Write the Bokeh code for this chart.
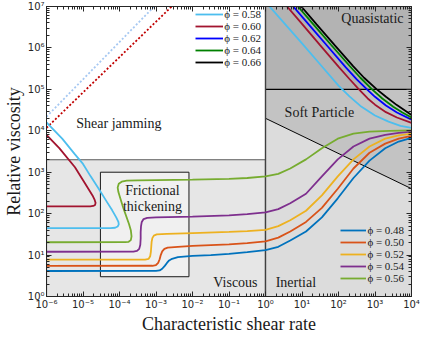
from bokeh.plotting import figure
from bokeh.models import (Range1d, FixedTicker, LogAxis, CustomJSTickFormatter,
                          Legend, LegendItem)
from bokeh.core.properties import value
from bokeh.embed import file_html
from bokeh.resources import INLINE

# ---------------- data (log10 shear rate, log10 relative viscosity) ----------------
phi048_lx = [-6, -3.0, -2.9, -2.83, -2.76, -2.7, -2.64, -2.56, -2.4, -2.0, -1.5, -1.0, -0.5, 0,
             0.35, 0.678, 1.11, 1.545, 1.98, 2.41, 2.85, 3.28, 3.65, 4.0]
phi048_ly = [0.615, 0.617, 0.63, 0.67, 0.74, 0.81, 0.87, 0.91, 0.95, 0.98, 1.0, 1.03, 1.07, 1.12,
             1.2, 1.35, 1.57, 1.91, 2.37, 2.86, 3.28, 3.58, 3.74, 3.83]

phi050_lx = [-6, -3.1, -3.0, -2.94, -2.9, -2.87, -2.83, -2.77, -2.68, -2.4, -2.0, -1.5, -1.0, -0.5, 0,
             0.35, 0.678, 1.11, 1.545, 1.98, 2.41, 2.85, 3.28, 3.65, 4.0]
phi050_ly = [0.74, 0.742, 0.76, 0.81, 0.9, 1.0, 1.09, 1.15, 1.18, 1.2, 1.22, 1.24, 1.26, 1.29, 1.33,
             1.42, 1.57, 1.80, 2.14, 2.60, 3.09, 3.47, 3.69, 3.81, 3.88]

phi052_lx = [-6, -3.3, -3.2, -3.16, -3.14, -3.13, -3.12, -3.1, -3.06, -2.98, -2.7, -2.0, -1.0, -0.5, 0,
             0.35, 0.678, 1.11, 1.545, 1.98, 2.41, 2.85, 3.28, 3.65, 4.0]
phi052_ly = [0.89, 0.892, 0.91, 0.97, 1.08, 1.2, 1.32, 1.41, 1.47, 1.5, 1.51, 1.53, 1.56, 1.58, 1.61,
             1.7, 1.84, 2.07, 2.44, 2.90, 3.31, 3.62, 3.81, 3.89, 3.93]

phi054_lx = [-6, -3.62, -3.52, -3.46, -3.43, -3.42, -3.42, -3.41, -3.39, -3.34, -3.24, -3.0, -2.0, -1.0,
             -0.5, 0, 0.35, 0.678, 1.11, 1.545, 1.98, 2.41, 2.85, 3.28, 3.65, 4.0]
phi054_ly = [1.08, 1.082, 1.1, 1.15, 1.25, 1.4, 1.55, 1.7, 1.8, 1.87, 1.9, 1.91, 1.93, 1.96,
             1.99, 2.03, 2.11, 2.25, 2.48, 2.90, 3.31, 3.62, 3.81, 3.90, 3.95, 3.98]

phi056_lx = [-6, -3.85, -3.75, -3.69, -3.67, -3.69, -3.74, -3.82, -3.9, -3.97, -4.03, -4.05, -4.02,
             -3.94, -3.8, -3.5, -3.0, -2.0, -1.0, -0.5, 0, 0.35, 0.678, 1.11, 1.545, 1.98, 2.41,
             2.85, 3.4, 4.0]
phi056_ly = [1.31, 1.312, 1.32, 1.36, 1.45, 1.6, 1.75, 1.95, 2.15, 2.35, 2.52, 2.63, 2.72,
             2.77, 2.795, 2.805, 2.81, 2.82, 2.84, 2.86, 2.9, 2.96, 3.09, 3.31, 3.58, 3.81, 3.93,
             3.98, 4.0, 4.01]

# jammed suspensions: low-rate branches
phi058_low_lx = [-6, -5.57, -5.22, -5.0, -4.79, -4.57, -4.35, -4.2, -4.09, -4.03, -4.02, -4.05,
                 -4.12, -4.25, -6]
phi058_low_ly = [4.2, 3.81, 3.43, 3.2, 2.90, 2.6, 2.29, 2.08, 1.91, 1.80, 1.74, 1.69,
                 1.66, 1.65, 1.65]
phi060_low_lx = [-6, -5.65, -5.22, -4.96, -4.74, -4.68, -4.655, -4.67, -4.72, -4.8, -6]
phi060_low_ly = [3.9, 3.58, 3.12, 2.75, 2.44, 2.33, 2.26, 2.21, 2.185, 2.175, 2.175]

# dotted shear-jamming lines
jam058_lx = [-6, -3.05]
jam058_ly = [4.34, 7.0]
jam060_lx = [-6, -2.57]
jam060_ly = [4.07, 7.0]

# high-rate (quasistatic / soft particle) branches
phi058_high_lx = [0.11, 0.5, 1.0, 1.5, 2.0, 2.3, 2.6, 3.0, 3.37, 3.7, 4.0]
phi058_high_ly = [7.0, 6.61, 6.11, 5.6, 5.09, 4.83, 4.6, 4.37, 4.22, 4.12, 4.07]
phi060_high_lx = [0.59, 1.0, 1.5, 2.0, 2.3, 2.56, 2.8, 3.0, 3.3, 3.6, 4.0]
phi060_high_ly = [7.0, 6.58, 6.06, 5.55, 5.25, 5.0, 4.78, 4.63, 4.45, 4.32, 4.19]
phi062_high_lx = [0.76, 1.2, 1.7, 2.2, 2.5, 2.78, 3.0, 3.3, 3.6, 4.0]
phi062_high_ly = [7.0, 6.55, 6.04, 5.53, 5.24, 5.0, 4.82, 4.61, 4.44, 4.27]
phi064_high_lx = [0.89, 1.3, 1.8, 2.3, 2.6, 2.92, 3.2, 3.5, 3.75, 4.0]
phi064_high_ly = [7.0, 6.58, 6.07, 5.57, 5.28, 5.0, 4.78, 4.58, 4.44, 4.32]
phi066_high_lx = [0.98, 1.4, 1.9, 2.4, 2.7, 3.05, 3.3, 3.6, 4.0]
phi066_high_ly = [7.0, 6.57, 6.06, 5.56, 5.28, 5.0, 4.82, 4.62, 4.38]

low_labels = ["ϕ = 0.48", "ϕ = 0.50", "ϕ = 0.52", "ϕ = 0.54", "ϕ = 0.56"]
high_labels = ["ϕ = 0.58", "ϕ = 0.60", "ϕ = 0.62", "ϕ = 0.64", "ϕ = 0.66"]

x_ticks = [10.0 ** k for k in range(-6, 5)]
y_ticks = [10.0 ** k for k in range(0, 8)]

# regime boundaries
viscous_top = 2000
frict_x = [3e-5, 8e-3]
frict_y = [3, 1000]
quasi_bottom = 1e5
diag_x = [1, 1e4]
diag_y = [2e4, 400]

c_low = ["#0072BD", "#D95319", "#EDB120", "#7E2F8E", "#77AC30"]
c_high = ["#4DBEEE", "#A2142F", "#0000FF", "#008000", "#000000"]


def pw(seq):
    return [10.0 ** v for v in seq]


SERIF = "Liberation Serif"
W, H = 420, 336
BL, BR, BT, BB = 40, 9, 6, 35

p = figure(width=W, height=H, x_axis_type="log", y_axis_type="log",
           x_range=Range1d(1e-6, 1e4), y_range=Range1d(1, 1e7),
           output_backend="svg", toolbar_location=None,
           min_border_left=BL, min_border_right=BR, min_border_top=BT, min_border_bottom=BB)
p.grid.visible = False
p.background_fill_color = "white"
p.outline_line_color = "#262626"
p.outline_line_width = 1

# regions
p.quad(left=[1e-6], right=[1], bottom=[1], top=[viscous_top], fill_color="#e6e6e6",
       line_color="#5a5a5a", line_width=1.2)
p.quad(left=[1], right=[1e4], bottom=[quasi_bottom], top=[1e7], fill_color="#b3b3b3", line_color=None)
p.patch([1, 1e4, 1e4, 1], [quasi_bottom, quasi_bottom, diag_y[1], diag_y[0]],
        fill_color="#c3c3c3", line_color=None)
p.patch([1, 1e4, 1e4, 1], [1, 1, diag_y[1], diag_y[0]], fill_color="#dcdcdc", line_color=None)
p.quad(left=[frict_x[0]], right=[frict_x[1]], bottom=[frict_y[0]], top=[frict_y[1]],
       fill_color="#f0f0f0", line_color="#1a1a1a", line_width=1)
p.line([1, 1e4], [quasi_bottom, quasi_bottom], line_color="black", line_width=1.1)
p.line(diag_x, diag_y, line_color="black", line_width=1)
p.line([1, 1], [1, 1e7], line_color="#404040", line_width=1.4)

# dotted lines
p.line(pw(jam058_lx), pw(jam058_ly), line_color="#a6c8f2", line_width=1.8, line_dash="2 2")
p.line(pw(jam060_lx), pw(jam060_ly), line_color="#C00000", line_width=1.8, line_dash="2 2")

LW = 1.8
low_series = [(phi048_lx, phi048_ly), (phi050_lx, phi050_ly), (phi052_lx, phi052_ly),
              (phi054_lx, phi054_ly), (phi056_lx, phi056_ly)]
low_r = []
for (lx, ly), c in zip(low_series, c_low):
    low_r.append(p.line(pw(lx), pw(ly), line_color=c, line_width=LW))

high_r = []
r = p.line(pw(phi058_high_lx), pw(phi058_high_ly), line_color=c_high[0], line_width=LW)
p.line(pw(phi058_low_lx), pw(phi058_low_ly), line_color=c_high[0], line_width=LW)
high_r.append(r)
r = p.line(pw(phi060_high_lx), pw(phi060_high_ly), line_color=c_high[1], line_width=LW)
p.line(pw(phi060_low_lx), pw(phi060_low_ly), line_color=c_high[1], line_width=LW)
high_r.append(r)
high_r.append(p.line(pw(phi062_high_lx), pw(phi062_high_ly), line_color=c_high[2], line_width=LW))
high_r.append(p.line(pw(phi064_high_lx), pw(phi064_high_ly), line_color=c_high[3], line_width=LW))
high_r.append(p.line(pw(phi066_high_lx), pw(phi066_high_ly), line_color=c_high[4], line_width=LW))

# region labels
p.text(x=[9.6e-5, 8.0e-4, 8.0e-4, 0.15, 6.8, 30, 850],
       y=[1.53e4, 355, 150, 2.2, 2.2, 2.7e4, 5.0e6],
       text=["Shear jamming", "Frictional", "thickening", "Viscous", "Inertial",
             "Soft Particle", "Quasistatic"],
       text_font=value(SERIF), text_font_size="14px", text_align="center",
       text_baseline="middle", text_color="#1a1a1a")

# axes
fmt = CustomJSTickFormatter(code="""
const sup = {"-":"\u207b","0":"\u2070","1":"\u00b9","2":"\u00b2","3":"\u00b3","4":"\u2074",
             "5":"\u2075","6":"\u2076","7":"\u2077","8":"\u2078","9":"\u2079"};
const e = Math.round(Math.log10(tick));
return "10" + String(e).split("").map(c => sup[c]).join("");
""")
blank = CustomJSTickFormatter(code="return '';")
x_minor = [k * 10.0 ** n for n in range(-6, 4) for k in range(2, 10)]
y_minor = [k * 10.0 ** n for n in range(0, 7) for k in range(2, 10)]


def style_axis(ax, ticks, minor, formatter):
    ax.ticker = FixedTicker(ticks=ticks, minor_ticks=minor)
    ax.formatter = formatter
    ax.major_tick_in = 5
    ax.major_tick_out = 0
    ax.minor_tick_in = 3
    ax.minor_tick_out = 0
    ax.axis_line_color = "#262626"
    ax.major_tick_line_color = "#262626"
    ax.minor_tick_line_color = "#262626"
    ax.major_label_text_color = "#262626"
    ax.major_label_text_font = "DejaVu Sans"
    ax.major_label_text_font_size = "10px"
    ax.major_label_standoff = 2


style_axis(p.xaxis[0], x_ticks, x_minor, fmt)
style_axis(p.yaxis[0], y_ticks, y_minor, fmt)
p.xaxis[0].axis_label = "Characteristic shear rate"
p.yaxis[0].axis_label = "Relative viscosity"
for ax in (p.xaxis[0], p.yaxis[0]):
    ax.axis_label_text_font = SERIF
    ax.axis_label_text_font_style = "normal"
    ax.axis_label_text_font_size = "18px"
    ax.axis_label_text_color = "#1a1a1a"
    ax.axis_label_standoff = 1

for side in ("above", "right"):
    ax = LogAxis()
    style_axis(ax, x_ticks if side == "above" else y_ticks,
               x_minor if side == "above" else y_minor, blank)
    ax.major_label_standoff = 0
    ax.major_label_text_font_size = "0px"
    ax.axis_label_standoff = 0
    p.add_layout(ax, side)

FW = W - BL - BR
FH = H - BT - BB


def make_legend(labels, rends, x_frac, top_frac, gw):
    row = 12
    top = top_frac * FH + row / 2
    loc = (x_frac * FW, top - row * len(labels))
    leg = Legend(items=[LegendItem(label=l, renderers=[r]) for l, r in zip(labels, rends)],
                 location=loc, orientation="vertical")
    leg.background_fill_alpha = 0
    leg.border_line_alpha = 0
    leg.padding = 0
    leg.margin = 0
    leg.spacing = 0
    leg.glyph_width = gw
    leg.glyph_height = row
    leg.label_height = row
    leg.label_standoff = 1
    leg.label_text_font = SERIF
    leg.label_text_font_size = "11px"
    leg.label_text_color = "#1a1a1a"
    return leg


p.add_layout(make_legend(high_labels, high_r, 0.4024, 6.68 / 7, 28))
p.add_layout(make_legend(low_labels, low_r, 0.7935, 1.574 / 7, 26))

open("out.html", "w").write(file_html(p, INLINE))
